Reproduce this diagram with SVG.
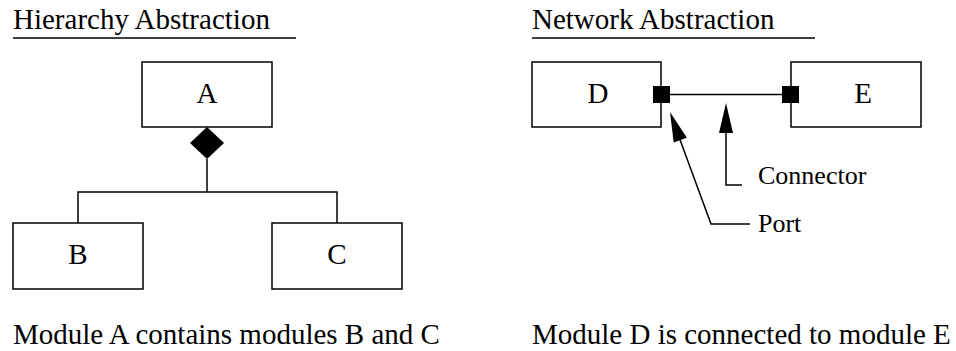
<svg xmlns="http://www.w3.org/2000/svg" width="956" height="351" viewBox="0 0 956 351">
<style>
text{font-family:'Liberation Serif','DejaVu Serif',serif;fill:#000}
.t{font-size:29px}
.l{font-size:29px;text-anchor:middle}
.c{font-size:26px}
.box{fill:#fff;stroke:#000;stroke-width:1.5}
.ln{fill:none;stroke:#000;stroke-width:1.5}
</style>
<rect width="956" height="351" fill="#fff"/>
<g id="titles">
<text class="t" x="13" y="29" font-family="Liberation Serif, serif">Hierarchy Abstraction</text>
<line class="ln" x1="13" y1="38" x2="296" y2="38"/>
<text class="t" x="532" y="29" font-family="Liberation Serif, serif">Network Abstraction</text>
<line class="ln" x1="532" y1="38" x2="815" y2="38"/>
</g>
<g id="connectors">
<polyline class="ln" points="207,159 207,192"/>
<polyline class="ln" points="78,223 78,192 337,192 337,223"/>
<polygon points="207,127 224,143 207,159 190,143" fill="#000"/>
<line class="ln" x1="670" y1="94.5" x2="782" y2="94.5"/>
<polyline class="ln" points="726,130 726,185 742,185"/>
<polygon points="726,103 733,133 719,133" fill="#000"/>
<polyline class="ln" points="679,137 711,224 750,224"/>
<polygon points="670,112 686.9,137.8 673.7,142.6" fill="#000"/>
</g>
<g id="A"><rect class="box" x="142" y="62" width="130" height="65"/><text class="l" x="207" y="103">A</text></g>
<g id="B"><rect class="box" x="13" y="223" width="130" height="66"/><text class="l" x="78" y="264">B</text></g>
<g id="C"><rect class="box" x="272" y="223" width="130" height="66"/><text class="l" x="337" y="264">C</text></g>
<g id="D"><rect class="box" x="532" y="62" width="129" height="65"/><text class="l" x="598" y="103">D</text><rect x="653" y="86" width="17" height="17" fill="#000"/></g>
<g id="E"><rect class="box" x="791" y="62" width="130" height="65"/><text class="l" x="863" y="103">E</text><rect x="782" y="86" width="17" height="17" fill="#000"/></g>
<g id="labels">
<text class="c" x="758" y="184">Connector</text>
<text class="c" x="758" y="232">Port</text>
<text class="t" x="13" y="344">Module A contains modules B and C</text>
<text class="t" x="532" y="344">Module D is connected to module E</text>
</g>
</svg>
